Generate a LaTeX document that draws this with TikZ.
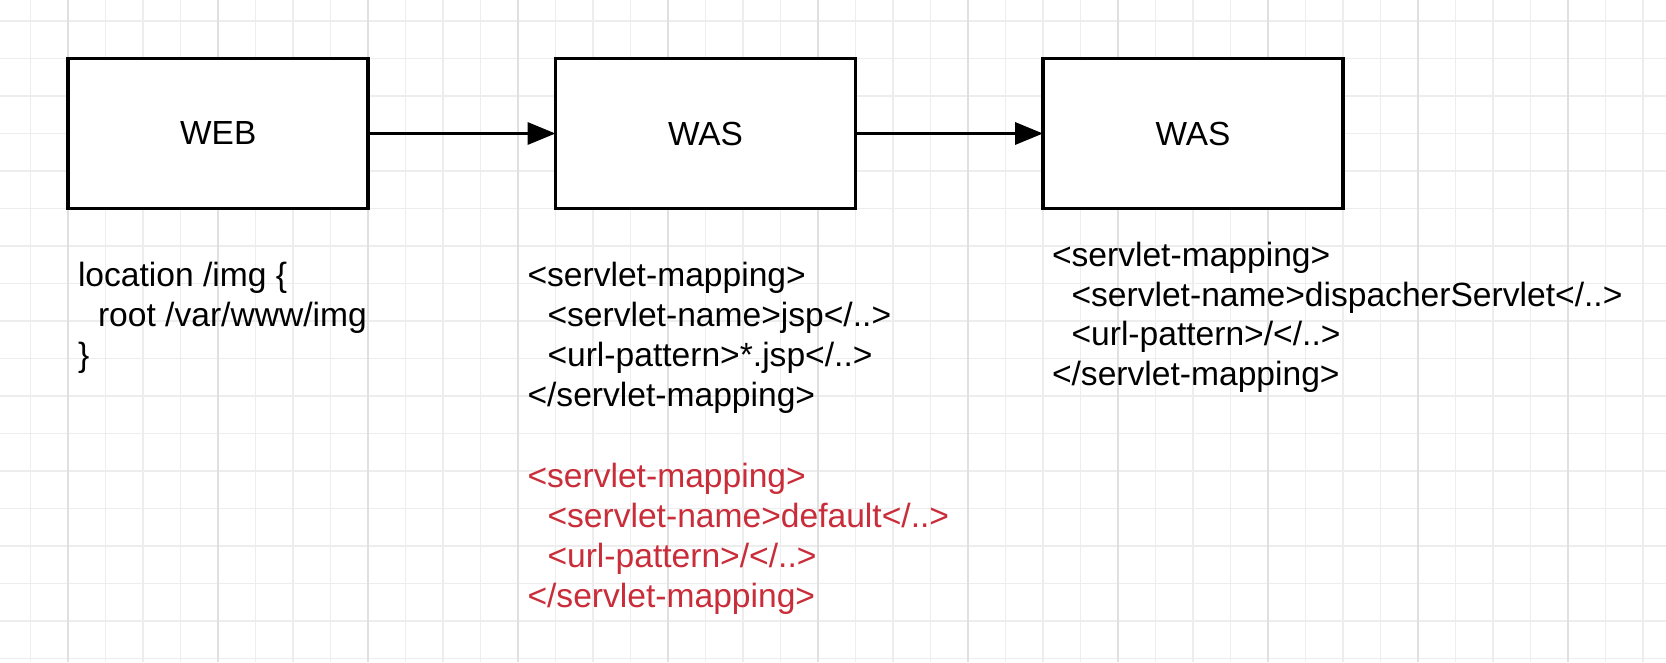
\documentclass[tikz,border=0pt]{standalone}
\usepackage{fontspec}
\setmainfont{Liberation Sans}
\usetikzlibrary{arrows.meta}
\definecolor{gridminor}{HTML}{EDEDED}
\definecolor{gridmajor}{HTML}{E0E0E0}
\definecolor{codered}{HTML}{C92D39}
\begin{document}
\begin{tikzpicture}[x=1pt,y=-1pt,
  box/.style={draw, line width=3.6pt, minimum width=300pt, minimum height=150pt,
    inner sep=0pt, outer sep=0pt, fill=white, font=\fontsize{33.4}{40}\selectfont},
  code/.style={anchor=base west, inner sep=0pt, outer sep=0pt,
    font=\fontsize{33.6}{40}\selectfont},
  redcode/.style={code, text=codered},
  flow/.style={line width=3.5pt, -{Triangle[length=28pt,width=22pt]}},
  minorline/.style={gridminor, line width=1.5pt},
  majorline/.style={gridmajor, line width=1.5pt}]
\useasboundingbox (0,0) rectangle (1666,662);
\fill[white] (0,0) rectangle (1666,662);
% grid
\foreach \k in {0,...,44} {
  \draw[minorline] ({30.5+37.5*\k},0) -- ({30.5+37.5*\k},662);
}
\foreach \k in {0,...,17} {
  \draw[minorline] (0,{21+37.5*\k}) -- (1666,{21+37.5*\k});
}
\foreach \k in {0,...,10} {
  \draw[majorline] ({68+150*\k},0) -- ({68+150*\k},662);
}
% boxes
\node[box] (web)  at (218.25,133.5) {WEB};
\node[box] (was1) at (705.5,133.5) {WAS};
\node[box] (was2) at (1193,133.5) {WAS};
% connectors
\draw[flow] (web.east) -- (was1.west);
\draw[flow] (was1.east) -- (was2.west);
% left text
\node[code] (l1) at (78,286) {location /img \{};
\node[code] (l2) at (98,326) {root /var/www/img};
\node[code] (l3) at (78,366) {\}};
% middle text
\node[code] (m1) at (527.5,286) {<servlet-mapping>};
\node[code] (m2) at (547.5,326.2) {<servlet-name>jsp</..>};
\node[code] (m3) at (547.5,366.4) {<url-pattern>*.jsp</..>};
\node[code] (m4) at (527.5,406.6) {</servlet-mapping>};
\node[redcode] (m6) at (527.5,487) {<servlet-mapping>};
\node[redcode] (m7) at (547.5,527.2) {<servlet-name>default</..>};
\node[redcode] (m8) at (547.5,567.4) {<url-pattern>/</..>};
\node[redcode] (m9) at (527.5,607.6) {</servlet-mapping>};
% right text
\node[code] (r1) at (1052,266.5) {<servlet-mapping>};
\node[code] (r2) at (1071.5,306) {<servlet-name>dispacherServlet</..>};
\node[code] (r3) at (1071.5,345.5) {<url-pattern>/</..>};
\node[code] (r4) at (1052,385) {</servlet-mapping>};
\end{tikzpicture}
\end{document}
